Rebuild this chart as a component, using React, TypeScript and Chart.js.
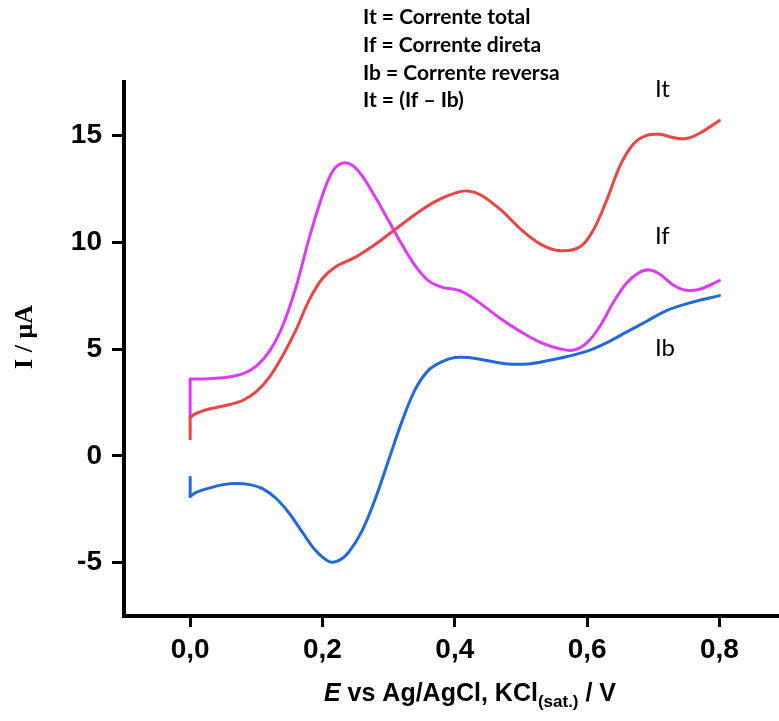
import React, { useEffect, useRef } from "react";
import { Chart, registerables } from "chart.js";

Chart.register(...registerables);

const itX = [0, 0, 0.01, 0.03, 0.06, 0.08, 0.1, 0.12, 0.14, 0.16, 0.18, 0.2, 0.22, 0.25, 0.28, 0.31, 0.34, 0.37, 0.4, 0.42, 0.44, 0.47, 0.5, 0.53, 0.56, 0.59, 0.61, 0.63, 0.65, 0.67, 0.69, 0.71, 0.73, 0.75, 0.77, 0.8];
const itY = [0.8, 1.8, 2.0, 2.2, 2.4, 2.6, 3.0, 3.7, 4.7, 5.9, 7.3, 8.3, 8.85, 9.3, 9.9, 10.6, 11.3, 11.9, 12.3, 12.4, 12.2, 11.5, 10.6, 9.9, 9.6, 9.8, 10.6, 12.0, 13.6, 14.6, 15.0, 15.05, 14.9, 14.85, 15.1, 15.7];

const ifX = [0, 0, 0.02, 0.05, 0.08, 0.1, 0.12, 0.14, 0.16, 0.18, 0.2, 0.215, 0.23, 0.245, 0.26, 0.28, 0.3, 0.32, 0.34, 0.36, 0.38, 0.41, 0.44, 0.47, 0.5, 0.53, 0.56, 0.58, 0.6, 0.62, 0.64, 0.66, 0.68, 0.695, 0.71, 0.73, 0.75, 0.77, 0.8];
const ifY = [1.8, 3.6, 3.6, 3.65, 3.85, 4.2, 4.9, 6.1, 7.9, 10.2, 12.2, 13.3, 13.7, 13.6, 13.1, 12.1, 11.0, 9.9, 8.9, 8.2, 7.9, 7.7, 7.1, 6.4, 5.8, 5.3, 5.0, 4.95, 5.3, 6.1, 7.2, 8.1, 8.6, 8.7, 8.5, 8.0, 7.75, 7.8, 8.2];

const ibX = [0, 0, 0.01, 0.03, 0.05, 0.07, 0.09, 0.11, 0.13, 0.15, 0.17, 0.19, 0.21, 0.225, 0.24, 0.26, 0.28, 0.3, 0.32, 0.34, 0.36, 0.38, 0.4, 0.42, 0.45, 0.48, 0.51, 0.54, 0.57, 0.6, 0.63, 0.66, 0.69, 0.72, 0.76, 0.8];
const ibY = [-1.0, -1.9, -1.7, -1.5, -1.35, -1.3, -1.35, -1.55, -2.0, -2.7, -3.6, -4.45, -4.95, -4.9, -4.5, -3.5, -2.0, -0.2, 1.6, 3.1, 4.0, 4.4, 4.6, 4.6, 4.45, 4.3, 4.3, 4.45, 4.65, 4.9, 5.3, 5.8, 6.3, 6.8, 7.2, 7.5];

const xTicks = [0, 0.2, 0.4, 0.6, 0.8];
const yTicks = [-5, 0, 5, 10, 15];

const legendLines = ["It = Corrente total", "If = Corrente direta", "Ib = Corrente reversa", "It = (If \u2013 Ib)"];
const seriesLabels = ["It", "If", "Ib"];

const pts = (xs: number[], ys: number[]) => xs.map((x, i) => ({ x, y: ys[i] }));

const SANS = "'Liberation Sans', Arial, sans-serif";

const textPlugin = {
  id: "texts",
  afterDraw(chart: any) {
    const ctx = chart.ctx;
    ctx.save();
    ctx.fillStyle = "#000";
    // legend block
    ctx.font = "bold 21px Lato, 'Open Sans', sans-serif";
    ctx.textBaseline = "middle";
    ctx.textAlign = "left";
    const ly = [17, 45, 73, 100];
    legendLines.forEach((t, i) => ctx.fillText(t, 363, ly[i]));
    // series labels
    ctx.font = "24px Lato, 'Open Sans', sans-serif";
    const sl = [[655, 89], [655, 236], [655, 348]];
    seriesLabels.forEach((t, i) => ctx.fillText(t, sl[i][0], sl[i][1]));
    // x axis title
    ctx.textBaseline = "alphabetic";
    const base = 701;
    const parts: [string, string, number][] = [
      ["E", `italic bold 25px ${SANS}`, 0],
      [" vs Ag/AgCl, KCl", `bold 25px ${SANS}`, 0],
      ["(sat.)", `bold 17px ${SANS}`, 6],
      [" / V", `bold 25px ${SANS}`, 0],
    ];
    let total = 0;
    parts.forEach(([t, f]) => { ctx.font = f; total += ctx.measureText(t).width; });
    let x = 470 - total / 2;
    parts.forEach(([t, f, dy]) => {
      ctx.font = f;
      ctx.fillText(t, x, base + dy);
      x += ctx.measureText(t).width;
    });
    // y axis title
    ctx.textBaseline = "middle";
    ctx.translate(25, 337);
    ctx.rotate(-Math.PI / 2);
    ctx.textAlign = "center";
    ctx.font = "bold 26px 'Liberation Serif', 'Times New Roman', serif";
    ctx.fillText("I / \u03bcA", 0, 0);
    ctx.restore();
  },
};

export default function App() {
  const ref = useRef<HTMLCanvasElement>(null);
  useEffect(() => {
    const canvas = ref.current!;
    const tickFont = { family: SANS, size: 28, weight: "bold" as const };
    const line = (label: string, xs: number[], ys: number[], color: string, tension: number) => ({
      label, data: pts(xs, ys), borderColor: color, showLine: true, pointRadius: 0, borderWidth: 3, tension,
      borderCapStyle: "round" as const, borderJoinStyle: "round" as const,
    });
    // initial potential-step segment (first two points) drawn straight, rest smoothed
    const series: [string, number[], number[], string][] = [
      ["It", itX, itY, "#ef4444"],
      ["If", ifX, ifY, "#dd3cf7"],
      ["Ib", ibX, ibY, "#2169dc"],
    ];
    const datasets: any[] = [];
    series.forEach(([l, xs, ys, c]) => {
      datasets.push(line(l + " step", xs.slice(0, 2), ys.slice(0, 2), c, 0));
      datasets.push(line(l, xs.slice(1), ys.slice(1), c, 0.35));
    });
    const chart = new Chart(canvas, {
      type: "scatter",
      data: { datasets },
      options: {
        animation: false,
        responsive: false,
        layout: { padding: { top: 82, left: 0, right: 0, bottom: 0 } },
        plugins: { legend: { display: false }, tooltip: { enabled: false } },
        scales: {
          x: {
            type: "linear",
            min: -0.1,
            max: 0.89,
            afterBuildTicks: (s: any) => { s.ticks = xTicks.map((v) => ({ value: v })); },
            afterFit: (s: any) => { s.height = 105; },
            ticks: { font: tickFont, color: "#000", padding: 6, callback: (v: any) => Number(v).toFixed(1).replace(".", ",") },
            grid: { drawOnChartArea: false, drawTicks: true, tickLength: 11, lineWidth: 3, color: "#000" },
            border: { display: true, width: 4, color: "#000" },
          },
          y: {
            type: "linear",
            min: -7.5,
            max: 17.5,
            afterBuildTicks: (s: any) => { s.ticks = yTicks.map((v) => ({ value: v })); },
            afterFit: (s: any) => { s.width = 124; },
            ticks: { font: tickFont, color: "#000", padding: 10, callback: (v: any) => String(v) },
            grid: { drawOnChartArea: false, drawTicks: true, tickLength: 12, lineWidth: 3, color: "#000" },
            border: { display: true, width: 4, color: "#000" },
          },
        },
      },
      plugins: [textPlugin],
    });
    return () => chart.destroy();
  }, []);
  return (
    <div style={{ position: "fixed", left: 0, top: 0, width: 779, height: 721, background: "#fff" }}>
      <canvas ref={ref} width={779} height={721} style={{ width: 779, height: 721 }} />
    </div>
  );
}
